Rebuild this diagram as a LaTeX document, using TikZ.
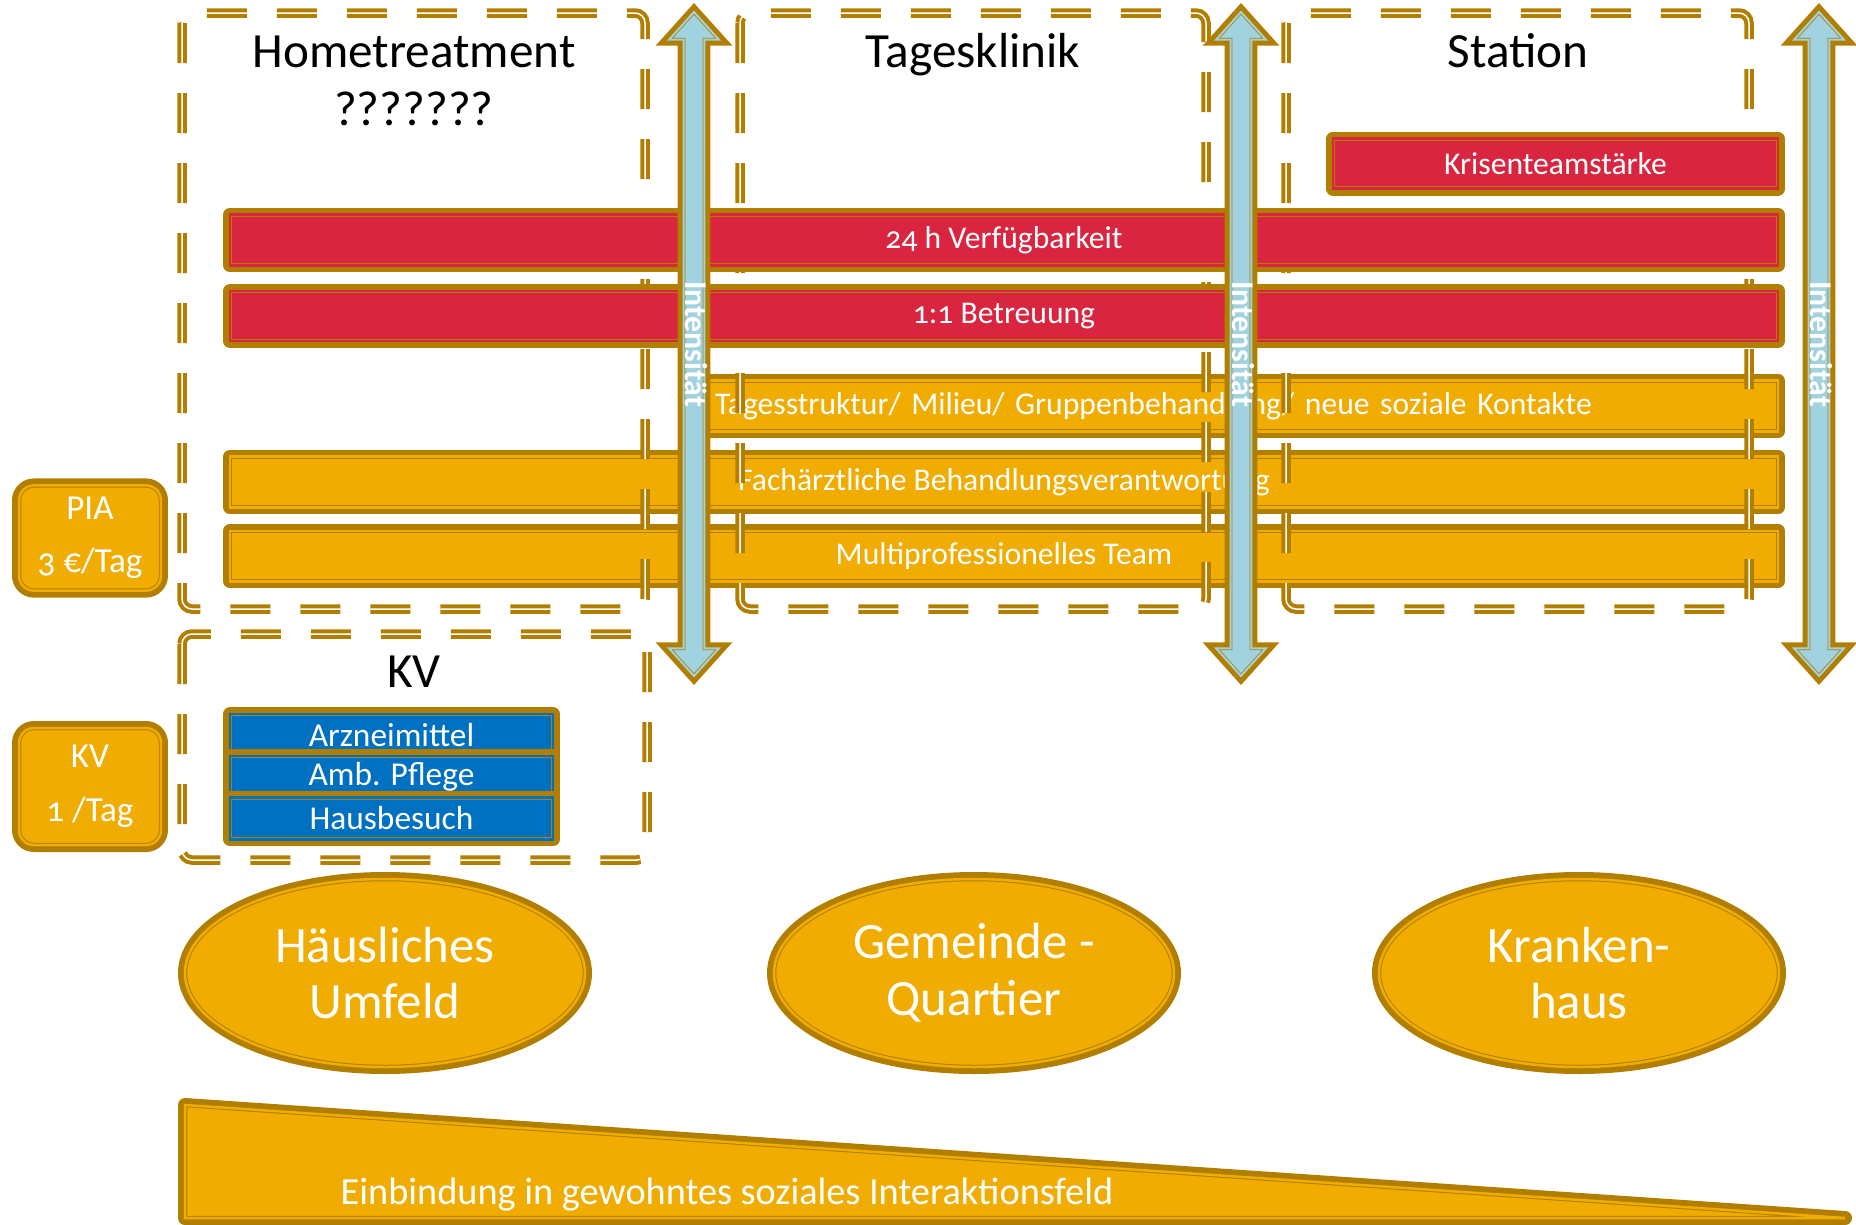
\documentclass[tikz,border=0pt]{standalone}
\usepackage{fontspec}
\setmainfont{Carlito}[Numbers=OldStyle]
\usetikzlibrary{positioning,shapes.geometric,shapes.arrows}
\definecolor{gold}{RGB}{178,126,0}
\definecolor{barred}{RGB}{217,37,63}
\definecolor{barorange}{RGB}{240,172,0}
\definecolor{barblue}{RGB}{0,112,192}
\definecolor{shaftblue}{RGB}{160,210,224}
\tikzstyle{rim}=[preaction={draw=gold,line width=1.4mm,line join=round},draw=gold,line width=0.1mm,double distance=0.25mm]
\tikzstyle{redbar}=[rim,double=barred,fill=barred,minimum height=5mm,text=white,font=\fontsize{9}{11}\selectfont]
\tikzstyle{orangebar}=[rim,double=barorange,fill=barorange,minimum height=5mm,text=white,font=\fontsize{9}{11}\selectfont]
\tikzstyle{bluebar}=[rim,double=barblue,fill=barblue,minimum width=32.3mm,minimum height=4.17mm,inner sep=0pt,text=white,font=\fontsize{9.5}{11}\selectfont]
\tikzstyle{cost}=[rim,double=barorange,fill=barorange,rounded corners=1.5mm,minimum width=14.2mm,align=center,text=white,font=\fontsize{10}{12}\selectfont]
\tikzstyle{setting}=[rim,ellipse,double=barorange,fill=barorange,minimum width=40mm,minimum height=18.8mm,align=center,text=white,font=\fontsize{14.5}{16.2}\selectfont]
\tikzstyle{zone}=[draw=gold,line width=0.4mm,double=white,double distance=0.15mm,dash pattern=on 4mm off 3mm,rounded corners=1mm]
\tikzstyle{zonetitle}=[font=\fontsize{14}{16.6}\selectfont,align=center]
\tikzstyle{intens}=[double arrow,rotate=-90,preaction={draw=gold,line width=1.2mm},draw=gold,line width=0.08mm,double=shaftblue,double distance=0.2mm,fill=shaftblue,minimum height=66.4mm,double arrow head extend=1.45mm,double arrow tip angle=84,inner xsep=0pt,inner ysep=0.1mm,text height=1.8mm,text depth=0mm,text=white,font=\bfseries\fontsize{9}{10}\selectfont]

\begin{document}
\begin{tikzpicture}[x=0.1mm,y=-0.1mm]
\useasboundingbox (0,0) rectangle (1856,1225);
\node[orangebar,minimum width=108.1mm,text width=104.5mm,inner xsep=1.8mm,align=left] (TS) at (1237.5,406) {Tagesstruktur/ Milieu/ Gruppenbehandlung/ neue soziale Kontakte};
\node[orangebar,minimum width=154.8mm] (FB) at (1004,482) {Fachärztliche Behandlungsverantwortung};
\node[orangebar,minimum width=154.8mm] (MT) at (1004,556) {Multiprofessionelles Team};
\draw[zone] (182,13) rectangle (645,609);
\draw[zone] (740,13) rectangle (1206,609);
\draw[zone] (1286,13) rectangle (1749,609);
\draw[zone] (182,634) rectangle (647,860);
\node[redbar,minimum width=44.5mm] (KT) at (1555.5,163.5) {Krisenteamstärke};
\node[redbar,minimum width=154.8mm] (VF) at (1004,240) {24 h Verfügbarkeit};
\node[redbar,minimum width=154.8mm] (BT) at (1004,316) {1:1 Betreuung};
\node[cost,minimum height=10.4mm] (PIA) at (90,538) {PIA\\[1.1mm]3 €/Tag};
\node[cost,minimum height=11.7mm] (KVT) at (90,786.5) {KV\\[1.2mm]1 /Tag};
\node[bluebar] (AM) at (391.5,735) {Arzneimittel};
\node[bluebar] (AP) at (391.5,777) {Amb. Pflege};
\node[bluebar] (HB) at (391.5,818.5) {Hausbesuch};
\node[setting] (HU) at (385,973) {Häusliches\\Umfeld};
\node[setting] (GQ) at (974,973) {Gemeinde -\\Quartier};
\node[setting] (KH) at (1579,973) {Kranken-\\haus};
\draw[rim,double=barorange,fill=barorange] (185,1105) -- (185,1218) -- (1845,1218) -- cycle;
\node[anchor=base west,inner sep=0pt,text=white,font=\fontsize{10.9}{13}\selectfont] (EB) at (340,1204) {Einbindung in gewohntes soziales Interaktionsfeld};
\node[intens] (I1) at (694,344) {Intensität};
\node[intens] (I2) at (1241,344) {Intensität};
\node[intens] (I3) at (1819,344) {Intensität};
\node[zonetitle] (HT) at (414,81) {Hometreatment\\???????};
\node[zonetitle,anchor=base] (TK) at (973,67.5) {Tagesklinik};
\node[zonetitle,anchor=base] (ST) at (1518,67.5) {Station};
\node[zonetitle,anchor=base] (KV) at (414,687) {KV};
\end{tikzpicture}
\end{document}
